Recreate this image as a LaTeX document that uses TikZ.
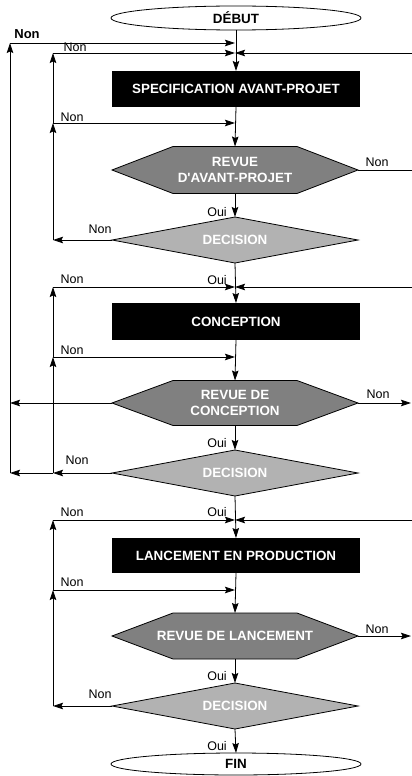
\documentclass[tikz,border=0pt]{standalone}
\usepackage{fontspec}
\setmainfont{Liberation Sans}
\newfontfamily\plainsans{Liberation Sans}
\usetikzlibrary{arrows.meta,shapes.geometric,calc,backgrounds}
\definecolor{hexgray}{HTML}{808080}
\definecolor{decgray}{HTML}{B2B2B2}
\newcommand{\straightq}{{\plainsans\bfseries '}}
\begin{document}
\begin{tikzpicture}[x=1pt,y=-1pt,
  >={Stealth[length=10pt,width=6.5pt,inset=1.5pt]},
  line/.style={line width=0.8pt,draw=black},
  lbl/.style={font=\fontsize{12.5}{14}\selectfont,inner sep=0pt},
  boldlbl/.style={font=\fontsize{13}{15}\selectfont\bfseries,inner sep=0pt},
  boxtxt/.style={font=\fontsize{13.4}{15.5}\selectfont\bfseries,text=white,align=center},
  blackbox/.style={rectangle,fill=black,minimum width=248pt,minimum height=36pt,inner sep=0pt,outer sep=0pt},
  shapebox/.style={rectangle,minimum width=246pt,inner sep=0pt,outer sep=0pt},
  terminal/.style={ellipse,draw,line width=0.8pt,fill=white,minimum width=250pt,inner sep=0pt,outer sep=0pt,
    font=\fontsize{13.4}{15.5}\selectfont\bfseries}
]
\useasboundingbox (0,0) rectangle (412,776);

% ---- nodes
\node[terminal,minimum height=24pt] (debut) at (236,18) {DÉBUT};
\node[blackbox,boxtxt] (spec) at (236,89) {SPECIFICATION AVANT-PROJET};
\node[shapebox,boxtxt,minimum height=47pt] (rev1) at (235,170) {REVUE\\D\straightq AVANT-PROJET};
\node[shapebox,boxtxt,minimum height=46pt] (dec1) at (235,240) {\raisebox{-2pt}{DECISION}};
\node[blackbox,boxtxt,minimum height=37pt] (conc) at (236,321.5) {CONCEPTION};
\node[shapebox,boxtxt,minimum height=45pt] (rev2) at (235,403) {REVUE DE\\CONCEPTION};
\node[shapebox,boxtxt,minimum height=46pt] (dec2) at (235,473) {\raisebox{-2pt}{DECISION}};
\node[blackbox,boxtxt,minimum height=35pt] (lanc) at (236,555.5) {LANCEMENT EN PRODUCTION};
\node[shapebox,boxtxt,minimum height=46pt] (rev3) at (235,636) {REVUE DE LANCEMENT};
\node[shapebox,boxtxt,minimum height=46pt] (dec3) at (235,706) {\raisebox{-2pt}{DECISION}};
\node[terminal,minimum height=22pt] (fin) at (236,764) {FIN};

\begin{scope}[on background layer]
\foreach \n in {rev1,rev2,rev3}
  \filldraw[fill=hexgray,line width=0.8pt] (\n.west) -- ($(\n.north west)+(61,0)$) -- ($(\n.north east)+(-61,0)$)
    -- (\n.east) -- ($(\n.south east)+(-61,0)$) -- ($(\n.south west)+(61,0)$) -- cycle;
\foreach \n in {dec1,dec2,dec3}
  \filldraw[fill=decgray,line width=0.8pt] (\n.west) -- (\n.north) -- (\n.east) -- (\n.south) -- cycle;
\end{scope}

% ---- junction coordinates
\coordinate (jA) at (235,43);
\coordinate (jB) at (235,53);
\coordinate (jC) at (235,123);
\coordinate (jD) at (235,287);
\coordinate (jE) at (235,357);
\coordinate (jF) at (235,520);
\coordinate (jG) at (235,590);
\coordinate (oTop) at (10,43);
\coordinate (oMid) at (10,403);
\coordinate (oBot) at (10,473);
\coordinate (iB) at (53,53);
\coordinate (iC) at (53,123);
\coordinate (iD) at (53,287);
\coordinate (iE) at (53,357);
\coordinate (iF) at (53,520);
\coordinate (iG) at (53,590);
\coordinate (i1) at (53,240);
\coordinate (i2) at (53,473);
\coordinate (i3) at (53,706);
\coordinate (rB) at (412,53);
\coordinate (rD) at (412,287);
\coordinate (rF) at (412,520);
\coordinate (r1) at (412,170);
\coordinate (r2) at (411,403);
\coordinate (r3) at (411,636);

% ---- stage 1
\draw[line,->] (debut.south) -- (spec.north);
\draw[line,->] (oBot) -- (oTop);
\draw[line,->] (oTop) -- (jA);
\draw[line,->] (i1) -- (iC);
\draw[line,->] (iC) -- (iB);
\draw[line,->] (iB) -- (jB);
\draw[line,->] (rB) -- (jB);
\draw[line,->] (iC) -- (jC);
\draw[line,->] (spec.south) -- (rev1.north);
\draw[line] (rev1.east) -- (r1);
\draw[line,->] (rev1.south) -- (dec1.north);
\draw[line,->] (dec1.west) -- (i1);
% ---- stage 2
\draw[line,->] (dec1.south) -- (conc.north);
\draw[line,->] (i2) -- (iE);
\draw[line,->] (iE) -- (iD);
\draw[line,->] (iD) -- (jD);
\draw[line,->] (rD) -- (jD);
\draw[line,->] (iE) -- (jE);
\draw[line,->] (conc.south) -- (rev2.north);
\draw[line,->] (rev2.west) -- (oMid);
\draw[line,->] (rev2.east) -- (r2);
\draw[line,->] (rev2.south) -- (dec2.north);
\draw[line,->] (dec2.west) -- (i2);
\draw[line,->] (i2) -- (oBot);
% ---- stage 3
\draw[line,->] (dec2.south) -- (lanc.north);
\draw[line,->] (i3) -- (iG);
\draw[line,->] (iG) -- (iF);
\draw[line,->] (iF) -- (jF);
\draw[line,->] (rF) -- (jF);
\draw[line,->] (iG) -- (jG);
\draw[line,->] (lanc.south) -- (rev3.north);
\draw[line,->] (rev3.east) -- (r3);
\draw[line,->] (rev3.south) -- (dec3.north);
\draw[line,->] (dec3.west) -- (i3);
\draw[line,->] (dec3.south) -- (fin.north);

% ---- labels
\node[boldlbl] (n0) at (27,34) {Non};
\node[lbl] (n1) at (75,47) {Non};
\node[lbl] (n2) at (72,117) {Non};
\node[lbl] (n3) at (377,162) {Non};
\node[lbl] (o1) at (217,212) {Oui};
\node[lbl] (n4) at (100,229) {Non};
\node[lbl] (o2) at (217,280) {Oui};
\node[lbl] (n5) at (72,279) {Non};
\node[lbl] (n6) at (72,350) {Non};
\node[lbl] (n7) at (378,394) {Non};
\node[lbl] (o3) at (217,443) {Oui};
\node[lbl] (n8) at (77,460) {Non};
\node[lbl] (o4) at (217,512) {Oui};
\node[lbl] (n9) at (72,512) {Non};
\node[lbl] (n10) at (72,582) {Non};
\node[lbl] (n11) at (377,629) {Non};
\node[lbl] (o5) at (217,676) {Oui};
\node[lbl] (n12) at (100,694) {Non};
\node[lbl] (o6) at (217,746) {Oui};
\end{tikzpicture}
\end{document}
